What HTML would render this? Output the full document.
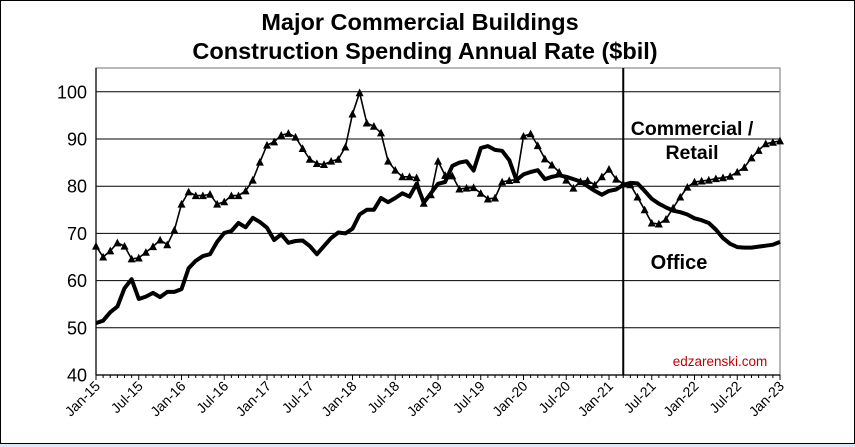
<!DOCTYPE html>
<html><head><meta charset="utf-8"><style>
html,body{margin:0;padding:0;background:#fff}
svg{display:block;font-family:"Liberation Sans",Arial,sans-serif}
</style></head><body>
<svg id="c" width="855" height="447" viewBox="0 0 855 447" xmlns="http://www.w3.org/2000/svg">
<rect x="0.5" y="0.5" width="854" height="443" fill="#fff" stroke="#000" stroke-width="1"/>
<rect x="0" y="444" width="855" height="3" fill="#dbe8f7"/>
<text x="420" y="30" font-size="23.5" font-weight="bold" text-anchor="middle">Major Commercial Buildings</text>
<text x="425" y="59" font-size="23.5" font-weight="bold" text-anchor="middle">Construction Spending Annual Rate ($bil)</text>
<g id="grid"></g>
<g id="series"></g>
<text x="692" y="135" font-size="19.5" font-weight="bold" text-anchor="middle">Commercial /</text>
<text x="692" y="159" font-size="19.5" font-weight="bold" text-anchor="middle">Retail</text>
<text x="679" y="269" font-size="20" font-weight="bold" text-anchor="middle">Office</text>
<text x="720" y="366" font-size="13.5" fill="#c00000" text-anchor="middle">edzarenski.com</text>
</svg>
<script>
var L=96,R=780,T=68,B=375;
function X(m){return L+m*(R-L)/96}
function Y(v){return B-(v-40)*(B-91.8)/60}
var g='';
for(var v=50;v<=100;v+=10){g+='<line x1="'+L+'" x2="'+R+'" y1="'+Y(v)+'" y2="'+Y(v)+'" stroke="#000" stroke-width="1"/>';}
for(var v=40;v<=100;v+=10){g+='<text x="'+(L-9)+'" y="'+(Y(v)+6.5)+'" font-size="18" text-anchor="end">'+v+'</text>';}
g+='<rect x="'+L+'" y="'+T+'" width="'+(R-L)+'" height="'+(B-T)+'" fill="none" stroke="#888" stroke-width="1.2"/>';
g+='<line x1="'+L+'" x2="'+L+'" y1="'+T+'" y2="'+B+'" stroke="#000" stroke-width="1.2"/>';
g+='<line x1="'+L+'" x2="'+R+'" y1="'+B+'" y2="'+B+'" stroke="#000" stroke-width="1.2"/>';
for(var m=0;m<=96;m++){var x=X(m);g+='<line x1="'+x+'" x2="'+x+'" y1="'+B+'" y2="'+(B+(m%6==0?5:3))+'" stroke="#000" stroke-width="1"/>';}
var mn=['Jan','Jul'];
for(var m=0;m<=96;m+=6){var yr=15+Math.floor(m/12);var lab=mn[(m/6)%2]+'-'+yr;var x=X(m)+5,y=B+12;
g+='<text x="'+x+'" y="'+y+'" font-size="14" text-anchor="end" transform="rotate(-45 '+x+' '+y+')">'+lab+'</text>';}
g+='<line x1="'+X(74)+'" x2="'+X(74)+'" y1="'+T+'" y2="'+B+'" stroke="#000" stroke-width="2"/>';
document.getElementById('grid').innerHTML=g;
var off=[51,51.5,53.3,54.5,58.4,60.3,56.1,56.6,57.4,56.5,57.6,57.6,58.2,62.6,64.2,65.2,65.6,68.2,70.1,70.5,72.2,71.3,73.3,72.4,71.2,68.6,69.8,68,68.4,68.5,67.3,65.6,67.3,69,70.2,70,71,74,75,75,77.5,76.6,77.5,78.5,77.8,80.5,76.5,78.5,80.5,80.9,84.3,85,85.3,83.3,88.1,88.5,87.7,87.5,85.5,81.3,82.5,83,83.4,81.5,82,82.3,82,81.5,81,80,79,78.2,79,79.3,80.3,80.7,80.6,79,77.3,76.3,75.5,74.8,74.5,74,73.2,72.8,72.2,70.8,69,67.8,67.1,67,67,67.2,67.4,67.6,68.2];
var com=[67.3,65,66.3,68,67.3,64.6,64.8,66,67.2,68.6,67.6,70.7,76.2,78.8,78,78,78.3,76.2,76.7,78,78,79,81.3,85.1,88.7,89.4,90.8,91.2,90.4,88,85.7,84.8,84.6,85.3,85.7,88.3,95.3,99.8,93.4,92.7,91.3,85.3,83.4,82,82,81.8,76.4,78.2,85.3,82.3,82.2,79.4,79.6,79.7,78.5,77.3,77.5,80.9,81.2,81.4,90.6,91.1,88.6,85.8,84.5,83,81.3,79.6,81,81.2,80.3,82,83.6,81.5,80.5,80.3,77.7,75,72.2,72,73,75.4,77.7,79.8,80.9,81.1,81.3,81.6,81.8,82.1,83,84,86,87.6,89,89.3,89.6];
function pts(a){return a.map(function(v,i){return X(i).toFixed(1)+','+Y(v).toFixed(1)}).join(' ')}
var s='<polyline points="'+pts(off)+'" fill="none" stroke="#000" stroke-width="4" stroke-linejoin="round"/>';
s+='<polyline points="'+pts(com)+'" fill="none" stroke="#000" stroke-width="1.6"/>';
com.forEach(function(v,i){var x=X(i),y=Y(v);s+='<polygon points="'+(x-4)+','+(y+3.5)+' '+(x+4)+','+(y+3.5)+' '+x+','+(y-4.2)+'" fill="#000"/>';});
document.getElementById('series').innerHTML=s;
</script>
</body></html>
